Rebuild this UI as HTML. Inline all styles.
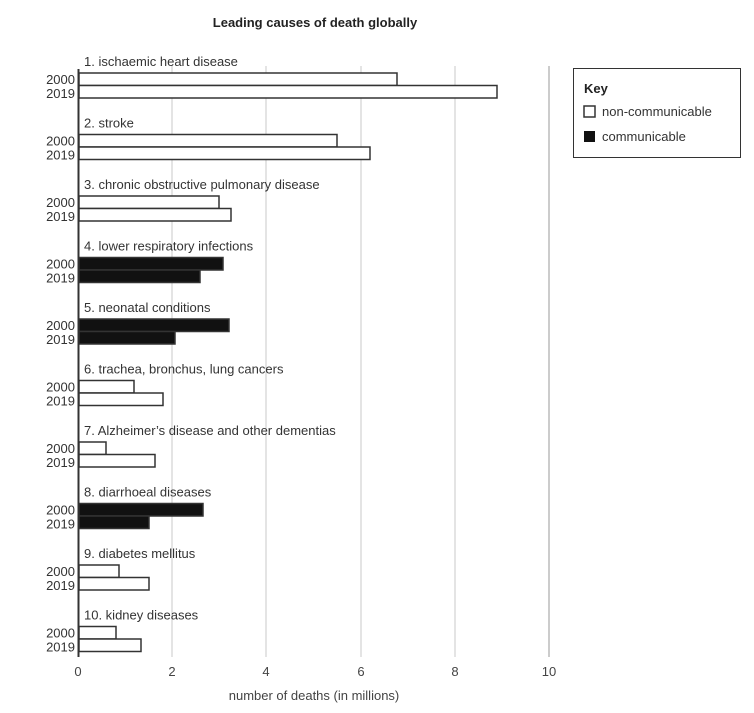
<!DOCTYPE html>
<html><head><style>body{margin:0;background:#fff}</style></head><body>
<svg width="754" height="708" xmlns="http://www.w3.org/2000/svg" font-family="Liberation Sans, sans-serif" fill="#333">
<text x="315" y="27" font-size="13" font-weight="bold" text-anchor="middle" fill="#222">Leading causes of death globally</text>
<g stroke="#c8c8c8" stroke-width="1">
<line x1="172" y1="66" x2="172" y2="657"/><line x1="266" y1="66" x2="266" y2="657"/>
<line x1="361" y1="66" x2="361" y2="657"/><line x1="455" y1="66" x2="455" y2="657"/>
</g>
<line x1="549" y1="66" x2="549" y2="657" stroke="#999" stroke-width="1"/>
<line x1="78.5" y1="69" x2="78.5" y2="657" stroke="#333" stroke-width="2"/>
<g font-size="13" text-anchor="middle" fill="#444">
<text x="78" y="676">0</text><text x="172" y="676">2</text><text x="266" y="676">4</text><text x="361" y="676">6</text><text x="455" y="676">8</text><text x="549" y="676">10</text>
</g>
<text x="314" y="700" font-size="13" text-anchor="middle" fill="#444">number of deaths (in millions)</text>
<g id="bars" stroke="#333" stroke-width="1.5" font-size="13">
<g transform="translate(0,0)"><text x="84" y="66" stroke="none">1.  ischaemic heart disease</text><rect x="79" y="73" width="318" height="12.5" fill="#fff"/><rect x="79" y="85.5" width="418" height="12.5" fill="#fff"/></g>
<g transform="translate(0,61.5)"><text x="84" y="66" stroke="none">2.  stroke</text><rect x="79" y="73" width="258" height="12.5" fill="#fff"/><rect x="79" y="85.5" width="291" height="12.5" fill="#fff"/></g>
<g transform="translate(0,123)"><text x="84" y="66" stroke="none">3.  chronic obstructive pulmonary disease</text><rect x="79" y="73" width="140" height="12.5" fill="#fff"/><rect x="79" y="85.5" width="152" height="12.5" fill="#fff"/></g>
<g transform="translate(0,184.5)"><text x="84" y="66" stroke="none">4.  lower respiratory infections</text><rect x="79" y="73" width="144" height="12.5" fill="#111"/><rect x="79" y="85.5" width="121" height="12.5" fill="#111"/></g>
<g transform="translate(0,246)"><text x="84" y="66" stroke="none">5.  neonatal conditions</text><rect x="79" y="73" width="150" height="12.5" fill="#111"/><rect x="79" y="85.5" width="96" height="12.5" fill="#111"/></g>
<g transform="translate(0,307.5)"><text x="84" y="66" stroke="none">6.  trachea, bronchus, lung cancers</text><rect x="79" y="73" width="55" height="12.5" fill="#fff"/><rect x="79" y="85.5" width="84" height="12.5" fill="#fff"/></g>
<g transform="translate(0,369)"><text x="84" y="66" stroke="none">7.  Alzheimer’s disease and other dementias</text><rect x="79" y="73" width="27" height="12.5" fill="#fff"/><rect x="79" y="85.5" width="76" height="12.5" fill="#fff"/></g>
<g transform="translate(0,430.5)"><text x="84" y="66" stroke="none">8.  diarrhoeal diseases</text><rect x="79" y="73" width="124" height="12.5" fill="#111"/><rect x="79" y="85.5" width="70" height="12.5" fill="#111"/></g>
<g transform="translate(0,492)"><text x="84" y="66" stroke="none">9.  diabetes mellitus</text><rect x="79" y="73" width="40" height="12.5" fill="#fff"/><rect x="79" y="85.5" width="70" height="12.5" fill="#fff"/></g>
<g transform="translate(0,553.5)"><text x="84" y="66" stroke="none">10.  kidney diseases</text><rect x="79" y="73" width="37" height="12.5" fill="#fff"/><rect x="79" y="85.5" width="62" height="12.5" fill="#fff"/></g>
</g>
<g font-size="13" text-anchor="end" fill="#333">
<text x="75" y="84">2000</text><text x="75" y="98">2019</text>
<text x="75" y="145.5">2000</text><text x="75" y="159.5">2019</text>
<text x="75" y="207">2000</text><text x="75" y="221">2019</text>
<text x="75" y="268.5">2000</text><text x="75" y="282.5">2019</text>
<text x="75" y="330">2000</text><text x="75" y="344">2019</text>
<text x="75" y="391.5">2000</text><text x="75" y="405.5">2019</text>
<text x="75" y="453">2000</text><text x="75" y="467">2019</text>
<text x="75" y="514.5">2000</text><text x="75" y="528.5">2019</text>
<text x="75" y="576">2000</text><text x="75" y="590">2019</text>
<text x="75" y="637.5">2000</text><text x="75" y="651.5">2019</text>
</g>
<rect x="573.5" y="68.5" width="167" height="89" fill="#fff" stroke="#333" stroke-width="1"/>
<text x="584" y="93" font-size="13" font-weight="bold" fill="#222">Key</text>
<rect x="584" y="106" width="11" height="11" fill="#fff" stroke="#333" stroke-width="1.5"/>
<text x="602" y="116" font-size="13">non-communicable</text>
<rect x="584" y="131" width="11" height="11" fill="#111"/>
<text x="602" y="141" font-size="13">communicable</text>
</svg>
</body></html>
